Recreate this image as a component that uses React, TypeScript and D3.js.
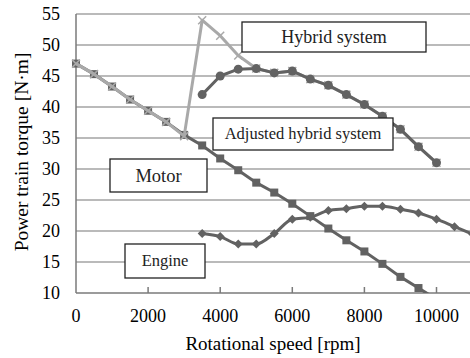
import React, { useEffect, useRef } from 'react';
import * as d3 from 'd3';

const rpm = [0, 500, 1000, 1500, 2000, 2500, 3000, 3500, 4000, 4500, 5000, 5500, 6000, 6500, 7000, 7500, 8000, 8500, 9000, 9500, 10000, 10500, 11000];

const motor = [47, 45.3, 43.3, 41.2, 39.4, 37.6, 35.5, 33.8, 31.7, 29.8, 27.8, 26.2, 24.4, 22.4, 20.4, 18.5, 16.7, 14.7, 12.6, 10.8, 9, null, null];
const hybrid = [47, 45.3, 43.3, 41.2, 39.4, 37.6, 35.3, 54, 51.5, 48.3, 46.2, 45.5, 45.8, 44.5, 43.5, 42, 40.4, 38.5, 36.4, 33.6, 31, null, null];
const adjusted = [null, null, null, null, null, null, null, 42, 45, 46.1, 46.2, 45.5, 45.8, 44.5, 43.5, 42, 40.4, 38.5, 36.4, 33.6, 31, null, null];
const engine = [null, null, null, null, null, null, null, 19.6, 19.1, 17.9, 17.9, 19.6, 21.9, 22.2, 23.3, 23.6, 24, 24, 23.5, 22.9, 21.9, 20.7, 19.5];

const yTicks = [10, 15, 20, 25, 30, 35, 40, 45, 50, 55];
const xTicks = [0, 2000, 4000, 6000, 8000, 10000];

const labels = [
  { text: 'Hybrid system', x0: 242, y0: 22, x1: 426, y1: 52, size: 18 },
  { text: 'Adjusted hybrid system', x0: 213, y0: 118, x1: 393, y1: 150, size: 16.5 },
  { text: 'Motor', x0: 110, y0: 159, x1: 207, y1: 192, size: 18.5 },
  { text: 'Engine', x0: 125, y0: 244, x1: 205, y1: 278, size: 16.5 },
];

const DARK = '#626262';
const LIGHT = '#a9a9a9';
const FONT = "'Liberation Serif', 'Times New Roman', Tinos, 'DejaVu Serif', serif";

export default function App() {
  const svgRef = useRef<SVGSVGElement>(null);

  useEffect(() => {
    if (!svgRef.current) return;
    const svg = d3.select(svgRef.current);
    svg.selectAll('*').remove();

    const x = d3.scaleLinear().domain([0, 10000]).range([76, 436.5]);
    const y = d3.scaleLinear().domain([10, 55]).range([293, 14]);

    svg.append('rect').attr('width', 470).attr('height', 358).attr('fill', '#fff');

    svg.append('defs').append('clipPath').attr('id', 'plot-clip')
      .append('rect').attr('x', 70).attr('y', 8).attr('width', 410).attr('height', y(10) - 8);

    // gridlines
    svg.append('g').selectAll('line')
      .data(yTicks.slice(1))
      .enter()
      .append('line')
      .attr('x1', x(0)).attr('x2', 470)
      .attr('y1', (d) => y(d)).attr('y2', (d) => y(d))
      .attr('stroke', '#a3a3a3')
      .attr('stroke-width', 1.5);

    // axes
    svg.append('line').attr('x1', x(0)).attr('x2', x(0)).attr('y1', y(55)).attr('y2', y(10))
      .attr('stroke', '#7a7a7a').attr('stroke-width', 1.5);
    svg.append('line').attr('x1', x(0)).attr('x2', 470).attr('y1', y(10)).attr('y2', y(10))
      .attr('stroke', '#7a7a7a').attr('stroke-width', 1.5);
    svg.append('g').selectAll('line')
      .data(xTicks.slice(1))
      .enter()
      .append('line')
      .attr('x1', (d) => x(d)).attr('x2', (d) => x(d))
      .attr('y1', y(10)).attr('y2', y(10) - 6)
      .attr('stroke', '#7a7a7a').attr('stroke-width', 1.5);

    // tick labels
    svg.append('g').selectAll('text')
      .data(yTicks)
      .enter()
      .append('text')
      .attr('x', 60)
      .attr('y', (d) => y(d) + 6)
      .attr('text-anchor', 'end')
      .attr('font-family', FONT)
      .attr('font-size', 18)
      .text((d) => d);

    svg.append('g').selectAll('text')
      .data(xTicks)
      .enter()
      .append('text')
      .attr('x', (d) => x(d))
      .attr('y', 322)
      .attr('text-anchor', 'middle')
      .attr('font-family', FONT)
      .attr('font-size', 18)
      .text((d) => d);

    svg.append('text')
      .attr('x', 273).attr('y', 350)
      .attr('text-anchor', 'middle')
      .attr('font-family', FONT)
      .attr('font-size', 19)
      .text('Rotational speed [rpm]');

    svg.append('text')
      .attr('transform', 'translate(28,152) rotate(-90)')
      .attr('text-anchor', 'middle')
      .attr('font-family', FONT)
      .attr('font-size', 19.5)
      .text('Power train torque [N·m]');

    const plot = svg.append('g').attr('clip-path', 'url(#plot-clip)');

    const pts = (vals: (number | null)[]) =>
      rpm.map((r, i) => ({ r, v: vals[i] })).filter((d) => d.v !== null) as { r: number; v: number }[];

    const line = d3.line<{ r: number; v: number }>()
      .x((d) => x(d.r))
      .y((d) => y(d.v));

    const smooth = d3.line<{ r: number; v: number }>()
      .x((d) => x(d.r))
      .y((d) => y(d.v))
      .curve(d3.curveMonotoneX);

    // Motor
    const motorPts = pts(motor);
    plot.append('path').datum(motorPts).attr('fill', 'none').attr('stroke', DARK)
      .attr('stroke-width', 3).attr('d', line);
    plot.selectAll('.sq').data(motorPts).enter().append('rect')
      .attr('x', (d) => x(d.r) - 4).attr('y', (d) => y(d.v) - 4)
      .attr('width', 8).attr('height', 8).attr('fill', DARK);

    // Hybrid system
    const hybPts = pts(hybrid);
    plot.append('path').datum(hybPts).attr('fill', 'none').attr('stroke', LIGHT)
      .attr('stroke-width', 3).attr('stroke-linejoin', 'round').attr('d', line);
    plot.selectAll('.xm').data(hybPts).enter().append('path')
      .attr('d', (d) => {
        const cx = x(d.r), cy = y(d.v), s = 4;
        return `M${cx - s},${cy - s}L${cx + s},${cy + s}M${cx - s},${cy + s}L${cx + s},${cy - s}`;
      })
      .attr('stroke', LIGHT).attr('stroke-width', 1.5);

    // Adjusted hybrid system
    const adjPts = pts(adjusted);
    plot.append('path').datum(adjPts).attr('fill', 'none').attr('stroke', DARK)
      .attr('stroke-width', 3).attr('stroke-linejoin', 'round').attr('d', line);
    plot.selectAll('.ci').data(adjPts).enter().append('circle')
      .attr('cx', (d) => x(d.r)).attr('cy', (d) => y(d.v)).attr('r', 4.5).attr('fill', DARK);

    // Engine
    const engPts = pts(engine);
    plot.append('path').datum(engPts).attr('fill', 'none').attr('stroke', DARK)
      .attr('stroke-width', 3).attr('d', smooth);
    plot.selectAll('.di').data(engPts).enter().append('path')
      .attr('d', (d) => {
        const cx = x(d.r), cy = y(d.v), s = 4.5;
        return `M${cx},${cy - s}L${cx + s},${cy}L${cx},${cy + s}L${cx - s},${cy}Z`;
      })
      .attr('fill', DARK);

    // label boxes
    const lg = svg.append('g');
    labels.forEach((l) => {
      lg.append('rect')
        .attr('x', l.x0).attr('y', l.y0)
        .attr('width', l.x1 - l.x0).attr('height', l.y1 - l.y0)
        .attr('fill', '#fff').attr('stroke', '#222').attr('stroke-width', 1.3);
      lg.append('text')
        .attr('x', (l.x0 + l.x1) / 2)
        .attr('y', (l.y0 + l.y1) / 2 + l.size * 0.33)
        .attr('text-anchor', 'middle')
        .attr('font-family', FONT)
        .attr('font-size', l.size)
        .attr('fill', '#222')
        .text(l.text);
    });
  }, []);

  return (
    <div>
      <svg ref={svgRef} width={470} height={358} style={{ position: 'absolute', left: 0, top: 0 }}></svg>
    </div>
  );
}
